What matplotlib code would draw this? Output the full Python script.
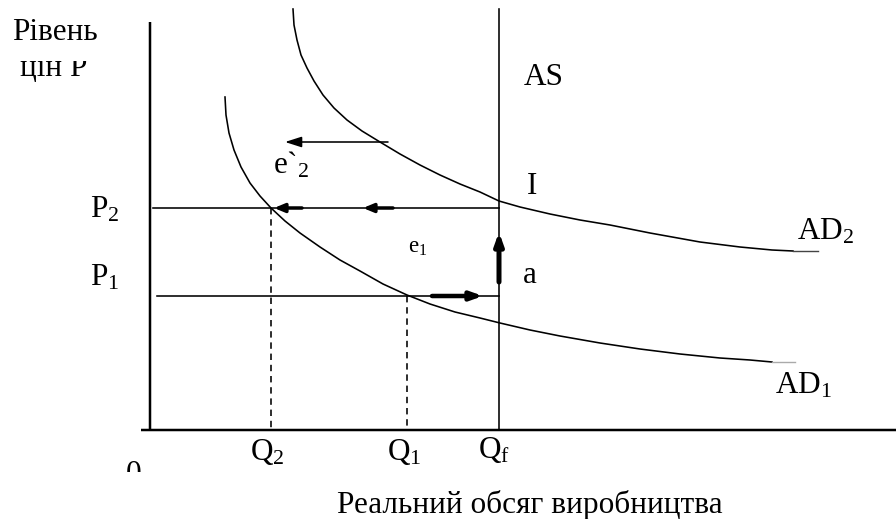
import matplotlib
matplotlib.use("Agg")
import matplotlib.pyplot as plt
from matplotlib.transforms import Bbox, TransformedBbox

plt.rcParams['font.family'] = ['Liberation Serif', 'DejaVu Serif']
plt.rcParams['mathtext.fontset'] = 'custom'
plt.rcParams['mathtext.rm'] = 'Liberation Serif'
plt.rcParams['mathtext.it'] = 'Liberation Serif:italic'

# ---- diagram data (schematic coordinates) ----
ad1_x = [225, 226, 229, 234, 241, 250, 260, 271, 285, 300, 320, 340, 360, 383,
         407, 430, 455, 480, 500, 530, 560, 600, 640, 680, 720, 750, 772]
ad1_y = [97, 115, 133, 150, 167, 183, 196, 208, 221, 233, 247, 260, 271, 284,
         295, 304, 312, 318, 323, 330, 336, 343, 349, 354, 358, 360, 362]
ad2_x = [293, 294, 297, 301, 307, 314, 323, 334, 347, 362, 380, 400, 420, 440,
         460, 480, 499, 520, 550, 580, 610, 650, 700, 740, 772, 793]
ad2_y = [9, 25, 40, 55, 68, 81, 95, 108, 120, 131, 142, 154, 165, 175,
         184, 192, 201, 207, 214, 220, 225, 233, 242, 247, 250, 251]

q_f = 499
q_1 = 407
q_2 = 271
p_1 = 296
p_2 = 208

tick_labels = {'Q2': r'Q$_2$', 'Q1': r'Q$_1$', 'Qf': r'Q$_\mathrm{f}$',
               'P2': r'P$_2$', 'P1': r'P$_1$'}

fig = plt.figure(figsize=(8.96, 5.19), dpi=100)
ax = fig.add_axes([0, 0, 1, 1])
ax.set_xlim(0, 896)
ax.set_ylim(519, 0)
ax.axis('off')

px = 0.72  # points per pixel
k = 'black'

# axes
ax.plot([150, 150], [22, 430], color=k, lw=2.5 * px, solid_capstyle='butt')
ax.plot([141, 896], [430, 430], color=k, lw=2.5 * px, solid_capstyle='butt')

# AS
ax.plot([q_f, q_f], [9, 430], color=k, lw=1.6 * px)

# price lines
ax.plot([153, q_f], [p_2, p_2], color=k, lw=1.6 * px)
ax.plot([157, q_f], [p_1, p_1], color=k, lw=1.6 * px)

# dashed quantity lines
ax.plot([q_2, q_2], [p_2, 430], color=k, lw=1.6 * px, dashes=(4, 3))
ax.plot([q_1, q_1], [p_1, 430], color=k, lw=1.6 * px, dashes=(4, 3))

# AD curves
ax.plot(ad1_x, ad1_y, color=k, lw=1.6 * px, solid_joinstyle='round')
ax.plot([ad1_x[-1], 795], [ad1_y[-1], ad1_y[-1]], color='#aaaaaa', lw=1.4 * px)
ax.plot(ad2_x, ad2_y, color=k, lw=1.6 * px, solid_joinstyle='round')
ax.plot([ad2_x[-1], 818], [ad2_y[-1], ad2_y[-1]], color='#444444', lw=1.4 * px)


def arrow(x0, y0, x1, y1, lw, hl, hw):
    ax.annotate('', xy=(x1, y1), xytext=(x0, y0),
                arrowprops=dict(arrowstyle=f'-|>,head_length={hl},head_width={hw}',
                                color=k, lw=lw, shrinkA=0, shrinkB=0))


arrow(388, 142, 285, 142, 1.6 * px, 1.0, 0.32)
arrow(393, p_2, 363, p_2, 3.5 * px, 0.6, 0.25)
arrow(302, p_2, 274, p_2, 3.5 * px, 0.6, 0.25)
arrow(432, p_1, 483, p_1, 4.5 * px, 0.7, 0.25)
arrow(q_f, 282, q_f, 232, 5 * px, 0.7, 0.25)

fs = 22.5
tk = dict(fontsize=fs, ha='left', va='baseline', color=k)

ax.text(12, 40, 'Рівень', **tk)
t = ax.text(20, 76, 'цін P', **tk)
t.set_clip_box(TransformedBbox(Bbox([[0, 61], [200, 100]]), ax.transData))
t.set_clip_on(True)

ax.text(524, 85, 'AS', **tk)
ax.text(527, 194, 'I', **tk)
ax.text(90, 217, tick_labels['P2'], **tk)
ax.text(90, 285, tick_labels['P1'], **tk)
ax.text(273, 173, 'e`$_2$', **tk)
ax.text(408, 253, 'e$_1$', fontsize=16.5, ha='left', va='baseline', color=k)
ax.text(523, 283, 'a', **tk)
ax.text(797, 240, 'AD$_2$', **tk)
ax.text(775, 393, 'AD$_1$', **tk)
ax.text(250, 460, tick_labels['Q2'], **tk)
ax.text(387, 460, tick_labels['Q1'], **tk)
ax.text(478, 458, tick_labels['Qf'], **tk)
z = ax.text(126, 482, '0', **tk)
z.set_clip_box(TransformedBbox(Bbox([[100, 440], [160, 472]]), ax.transData))
z.set_clip_on(True)
ax.text(337, 513, 'Реальний обсяг виробництва', **tk)

fig.savefig('out.png', dpi=100)
